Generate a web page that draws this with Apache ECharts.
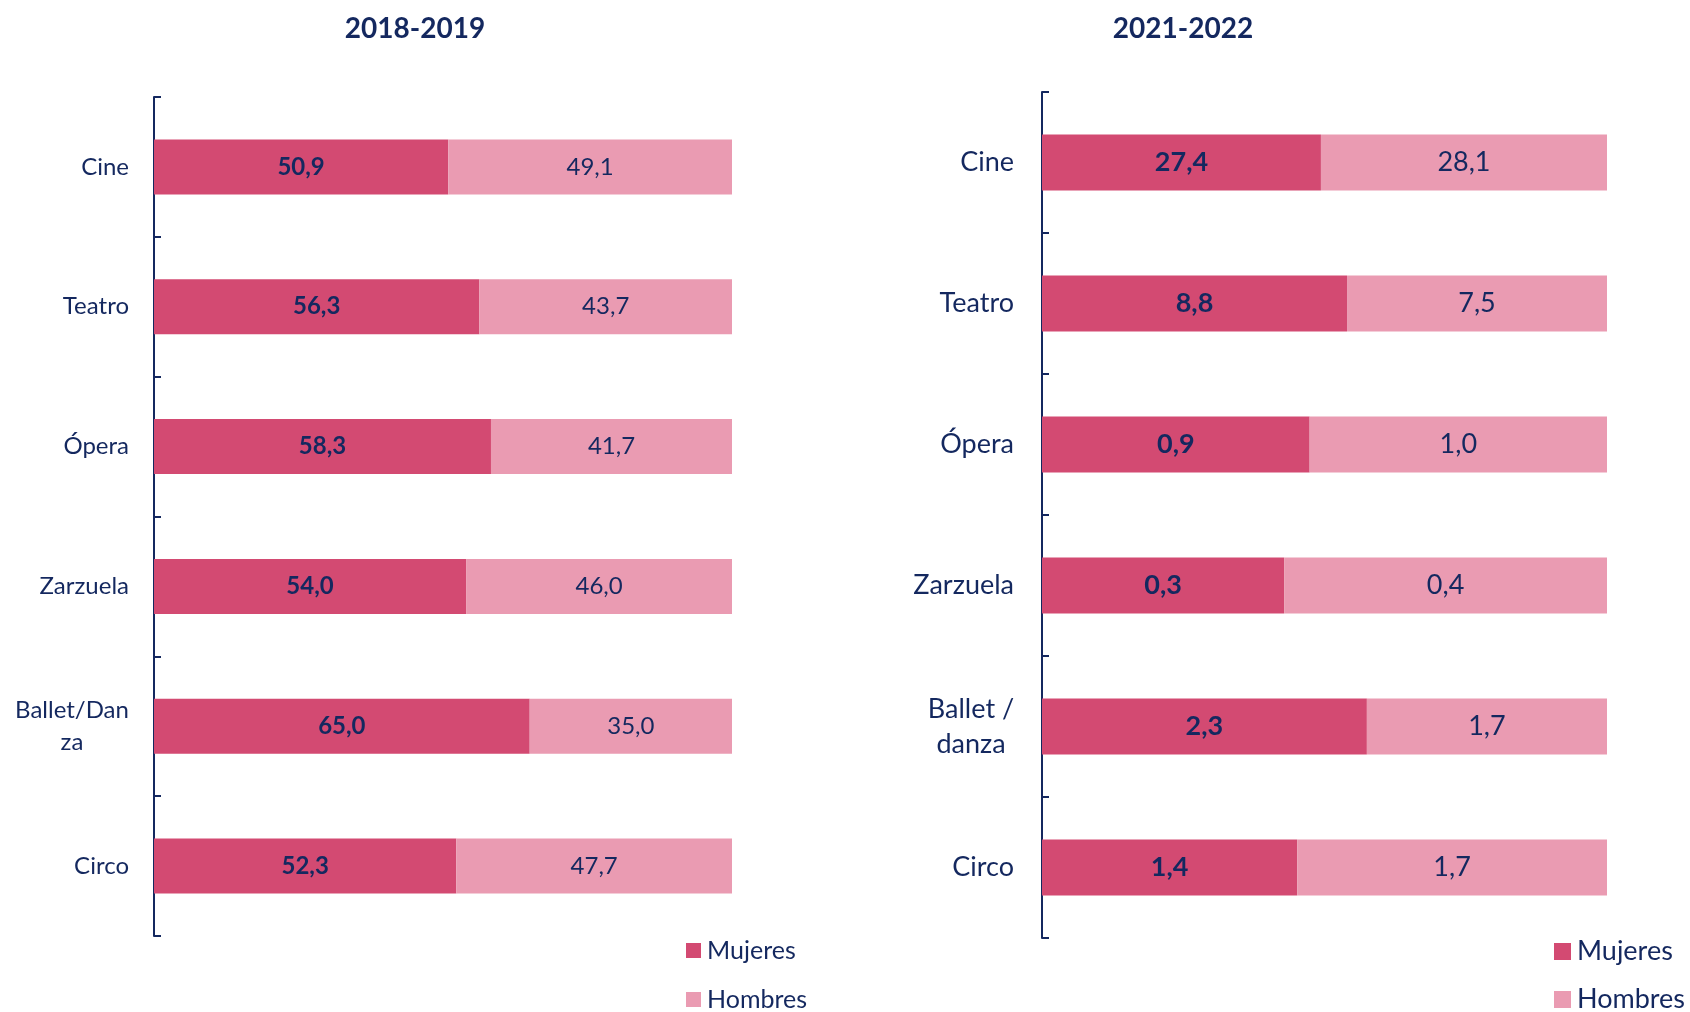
<!DOCTYPE html>
<html>
<head>
<meta charset="utf-8">
<script src="https://cdn.jsdelivr.net/npm/echarts@6/dist/echarts.min.js"></script>
<style>
html,body{margin:0;padding:0;background:#fff;}
#main{width:1690px;height:1012px;}
</style>
</head>
<body>
<div id="main"></div>
<script>
const categoriesA = ['Cine', 'Teatro', 'Ópera', 'Zarzuela', 'Ballet/Dan\nza', 'Circo'];
const mujeresA = [50.9, 56.3, 58.3, 54.0, 65.0, 52.3];
const hombresA = [49.1, 43.7, 41.7, 46.0, 35.0, 47.7];

const categoriesB = ['Cine', 'Teatro', 'Ópera', 'Zarzuela', 'Ballet /\ndanza', 'Circo'];
const mujeresB = [27.4, 8.8, 0.9, 0.3, 2.3, 1.4];
const hombresB = [28.1, 7.5, 1.0, 0.4, 1.7, 1.7];

const titles = ['2018-2019', '2021-2022'];
const seriesNames = ['Mujeres', 'Hombres'];

const NAVY = '#14285F';
const C_M = '#D34A72';
const C_H = '#EA9BB2';
const FONT = 'Lato';

function fmt(v) { return v.toFixed(1).replace('.', ','); }

// 100% stacked shares, labels show raw values
function shares(a, b) {
  return a.map((v, i) => ({ value: v / (v + b[i]) * 100, raw: v }));
}
const mA = shares(mujeresA, hombresA), hA = shares(hombresA, mujeresA);
const mB = shares(mujeresB, hombresB), hB = shares(hombresB, mujeresB);

function catLabel(fontSize, wrapWidth) {
  return {
    color: NAVY, fontFamily: FONT, fontSize: fontSize, lineHeight: fontSize + 8,
    formatter: function (v) {
      if (v.indexOf('\n') >= 0) {
        return v.split('\n').map(s => '{w|' + s + '}').join('\n');
      }
      return v;
    },
    rich: { w: { width: wrapWidth, align: 'center', color: NAVY, fontFamily: FONT, fontSize: fontSize, lineHeight: fontSize + 8 } }
  };
}

function yAxis(gi, cats, fontSize, wrapWidth, margin) {
  const l = catLabel(fontSize, wrapWidth);
  l.margin = margin;
  return {
    type: 'category', gridIndex: gi, data: cats, inverse: true,
    axisLine: { show: true, lineStyle: { color: NAVY, width: 2 } },
    axisTick: { show: true, inside: true, length: 7, lineStyle: { color: NAVY, width: 2 } },
    axisLabel: l,
    splitLine: { show: false }
  };
}

function series(name, gi, data, color, bold, fontSize, barWidth) {
  return {
    name: name, type: 'bar', stack: 's' + gi, xAxisIndex: gi, yAxisIndex: gi,
    data: data, barWidth: barWidth,
    itemStyle: { color: color },
    label: {
      show: true, position: 'inside', color: NAVY, fontFamily: FONT,
      fontSize: fontSize, fontWeight: bold ? 'bold' : 'normal',
      formatter: p => fmt(p.data.raw)
    },
    emphasis: { disabled: true }
  };
}

function legendItem(name, left, top, size, fontSize) {
  return {
    data: [name], orient: 'vertical', left: left, top: top,
    itemWidth: size, itemHeight: size, itemGap: 0, icon: 'rect', padding: 0,
    textStyle: { color: NAVY, fontFamily: FONT, fontSize: fontSize, padding: [0, 0, 0, 1] },
    selectedMode: false
  };
}

const chart = echarts.init(document.getElementById('main'));
chart.setOption({
  animation: false,
  backgroundColor: '#ffffff',
  title: [
    { text: titles[0], left: 410, top: 10, textAlign: 'center', textStyle: { color: NAVY, fontFamily: FONT, fontWeight: 'bold', fontSize: 28 } },
    { text: titles[1], left: 1178, top: 10, textAlign: 'center', textStyle: { color: NAVY, fontFamily: FONT, fontWeight: 'bold', fontSize: 28 } }
  ],
  legend: [
    legendItem(seriesNames[0], 686, 938, 15, 25),
    legendItem(seriesNames[1], 686, 987, 15, 25),
    legendItem(seriesNames[0], 1554, 938, 17, 27),
    legendItem(seriesNames[1], 1554, 986, 17, 27)
  ],
  grid: [
    { left: 154, top: 97, width: 578, height: 839 },
    { left: 1042, top: 92, width: 565, height: 846 }
  ],
  xAxis: [
    { type: 'value', gridIndex: 0, min: 0, max: 100, show: false },
    { type: 'value', gridIndex: 1, min: 0, max: 100, show: false }
  ],
  yAxis: [
    yAxis(0, categoriesA, 24, 114, 25),
    yAxis(1, categoriesB, 27, 86, 28)
  ],
  series: [
    series(seriesNames[0], 0, mA, C_M, true, 24, 55),
    series(seriesNames[1], 0, hA, C_H, false, 24, 55),
    series(seriesNames[0], 1, mB, C_M, true, 27, 56),
    series(seriesNames[1], 1, hB, C_H, false, 27, 56)
  ]
});
</script>
</body>
</html>
